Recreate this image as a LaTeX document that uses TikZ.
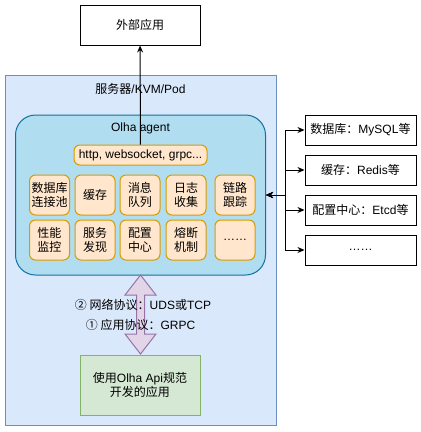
\documentclass[tikz,border=0pt]{standalone}
\usepackage{fontspec}
\setmainfont{Liberation Sans}
\newfontfamily\cjkfont{Noto Sans CJK SC}
\newcommand\zh[1]{{\cjkfont #1}}
\usetikzlibrary{arrows.meta}
\definecolor{srvfill}{HTML}{DAE8FC}
\definecolor{srvline}{HTML}{6C8EBF}
\definecolor{agtfill}{HTML}{B1DDF0}
\definecolor{agtline}{HTML}{10739E}
\definecolor{modfill}{HTML}{FFE6CC}
\definecolor{modline}{HTML}{D79B00}
\definecolor{appfill}{HTML}{D5E8D4}
\definecolor{appline}{HTML}{82B366}
\definecolor{arrfill}{HTML}{E1D5E7}
\definecolor{arrline}{HTML}{9673A6}

\begin{document}
\begin{tikzpicture}
	[x=1pt,y=-1pt,line width=1pt,>={Stealth[length=7pt,width=6pt]},
	 every node/.style={font=\fontsize{12}{14}\selectfont,align=center,inner sep=0pt},
	 plain/.style={draw=black,fill=white,minimum width=120,minimum height=40},
	 side/.style={draw=black,fill=white,minimum width=111,minimum height=30},
	 module/.style={draw=modline,fill=modfill,rounded corners=6,minimum width=40,minimum height=40,
	   font=\fontsize{12}{14}\selectfont\cjkfont}]
	\useasboundingbox (0,0) rectangle (421,432);
	\node[plain] (ext) at (140,25) {\zh{外部应用}};
	\node[draw=srvline,fill=srvfill,minimum width=271,minimum height=350] (srv) at (140.5,250) {};
	\node (srvlbl) at (140.5,89) {\zh{服务器}/KVM/Pod};
	\node[draw=agtline,fill=agtfill,rounded corners=20,minimum width=250,minimum height=160] (agent) at (140.5,195) {};
	\node (agtlbl) at (140.5,128) {Olha agent};
	\node[module,minimum width=133,minimum height=20,font=\fontsize{12}{14}\selectfont] (proto) at (140.5,155) {http, websocket, grpc...};
	\foreach \x/\y/\name/\txt in {49.5/195/pool/数据库\\连接池,95/195/cache/缓存,140/195/mq/消息\\队列,
	  186/195/log/日志\\收集,235/195/trace/链路\\跟踪,49.5/240/perf/性能\\监控,95/240/disc/服务\\发现,
	  140/240/conf/配置\\中心,186/240/fuse/熔断\\机制}
	\node[module] (\name) at (\x,\y) {\txt};
	\node[module,font=\fontsize{12}{14}\selectfont] (etc) at (235,240) {……};
	\draw[->] (proto) -- (ext);
	% storage side
	\node[side] (db) at (360.5,130) {\zh{数据库：}MySQL\zh{等}};
	\node[side] (kv) at (360.5,170) {\zh{缓存：}Redis\zh{等}};
	\node[side] (cfg) at (360.5,210) {\zh{配置中心：}Etcd\zh{等}};
	\node[side] (more) at (360.5,250) {……};
	\coordinate (hub) at (285,195);
	\foreach \n in {db,kv,cfg,more}
	\draw[<->] (agent.east) -- (hub) |- (\n.west);
	% block arrow
	\draw[draw=arrline,fill=arrfill,line join=miter] (140.5,275) -- (156,295) -- (144.5,295) -- (144.5,334) -- (156,334)
	  -- (140.5,354) -- (125,334) -- (136.5,334) -- (136.5,295) -- (125,295) -- cycle;
	\node (net) at (143,305) {\zh{② 网络协议：}UDS\zh{或}TCP};
	\node (proto2) at (140.5,325) {\zh{① 应用协议：}GRPC};
	\node[draw=appline,fill=appfill,minimum width=120,minimum height=60] (app) at (140,385)
	  {\zh{使用}Olha Api\zh{规范}\\\zh{开发的应用}};
\end{tikzpicture}
\end{document}
